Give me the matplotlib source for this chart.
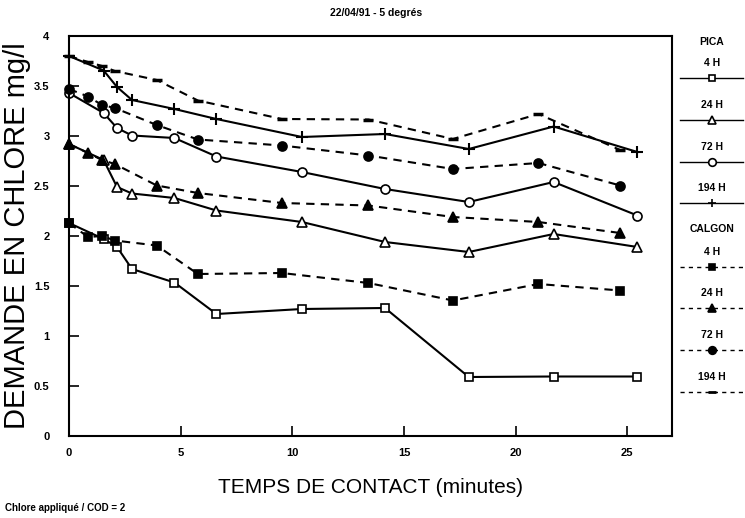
import matplotlib
matplotlib.use("Agg")
import matplotlib.pyplot as plt
from matplotlib.lines import Line2D

plt.rcParams['font.family'] = ['Liberation Sans', 'DejaVu Sans']

# Time (minutes)
t_pica = [0, 1.55, 2.15, 2.82, 4.72, 6.6, 10.43, 14.15, 17.9, 21.7, 25.45]
t_calgon = [0, 0.85, 1.48, 2.05, 3.93, 5.77, 9.53, 13.41, 17.19, 21.02, 24.68]

# Chlorine demand (mg/l)
pica_4h = [2.13, 1.97, 1.89, 1.67, 1.535, 1.22, 1.27, 1.28, 0.59, 0.595, 0.595]
pica_24h = [2.92, 2.76, 2.49, 2.425, 2.38, 2.255, 2.14, 1.94, 1.84, 2.02, 1.89]
pica_72h = [3.43, 3.23, 3.08, 3.005, 2.98, 2.795, 2.64, 2.47, 2.34, 2.54, 2.205]
pica_194h = [3.80, 3.655, 3.49, 3.36, 3.27, 3.17, 2.99, 3.02, 2.87, 3.095, 2.84]

calgon_4h = [2.13, 1.99, 2.0, 1.955, 1.905, 1.62, 1.63, 1.53, 1.355, 1.52, 1.455]
calgon_24h = [2.92, 2.83, 2.76, 2.72, 2.505, 2.43, 2.33, 2.305, 2.19, 2.14, 2.03]
calgon_72h = [3.47, 3.395, 3.31, 3.28, 3.11, 2.965, 2.905, 2.805, 2.67, 2.73, 2.505]
calgon_194h = [3.80, 3.74, 3.70, 3.65, 3.56, 3.355, 3.17, 3.165, 2.97, 3.22, 2.86]

x_ticks = [0, 5, 10, 15, 20, 25]
y_ticks = [0, 0.5, 1, 1.5, 2, 2.5, 3, 3.5, 4]
y_tick_labels = ['0', '0.5', '1', '1.5', '2', '2.5', '3', '3.5', '4']

fig = plt.figure(figsize=(7.45, 5.18), dpi=100)
ax = fig.add_axes([69/745, 82/518, (672-69)/745, (436-36)/518])

DASH = (4, 3)
series = [
    (t_pica, pica_4h, '-', 's', 'white', 6, 1.2),
    (t_pica, pica_24h, '-', '^', 'white', 6.5, 1.2),
    (t_pica, pica_72h, '-', 'o', 'white', 6.5, 1.2),
    (t_pica, pica_194h, '-', '+', 'black', 8, 1.5),
    (t_calgon, calgon_4h, '--', 's', 'black', 6, 1.2),
    (t_calgon, calgon_24h, '--', '^', 'black', 6.5, 1.2),
    (t_calgon, calgon_72h, '--', 'o', 'black', 6.5, 1.2),
    (t_calgon, calgon_194h, '--', '_', 'black', 7, 2.5),
]
for x, y, ls, m, mfc, ms, mew in series:
    kw = dict(color='black', lw=1.5, marker=m, mfc=mfc, mec='black', ms=ms, mew=mew, clip_on=False)
    if ls == '--':
        ax.plot(x, y, linestyle='--', dashes=DASH, **kw)
    else:
        ax.plot(x, y, linestyle='-', **kw)

ax.set_xlim(0, 27)
ax.set_ylim(0, 4)
ax.set_xticks(x_ticks)
ax.set_xticklabels([str(v) for v in x_ticks], fontsize=8, fontweight='bold')
ax.set_yticks(y_ticks)
ax.set_yticklabels(y_tick_labels, fontsize=8, fontweight='bold')
ax.tick_params(direction='in', length=7, width=1.2)
ax.tick_params(axis='x', pad=9)
ax.tick_params(axis='y', pad=14)
for s in ax.spines.values():
    s.set_linewidth(1.5)

ax.set_xlabel('TEMPS DE CONTACT (minutes)', fontsize=15, labelpad=14)
ax.set_ylabel('DEMANDE EN CHLORE mg/l', fontsize=21, labelpad=2)

fig.text(376/745, 1 - 13/518, '22/04/91 - 5 degrés', ha='center', va='center',
         fontsize=7.5, fontweight='bold')
fig.text(5/745, 1 - 508/518, 'Chlore appliqué / COD = 2', ha='left', va='center',
         fontsize=7, fontweight='bold')

# Legend on the right
lx0, lx1, lxc = 680/745, 743/745, 712/745
def fy(p):
    return 1 - p/518

fig.text(lxc, fy(42), 'PICA', ha='center', va='center', fontsize=7.5, fontweight='bold')
fig.text(lxc, fy(229), 'CALGON', ha='center', va='center', fontsize=7.5, fontweight='bold')
leg = [
    ('4 H', 63, 78, '-', 's', 'white', 5, 1.2),
    ('24 H', 105, 120, '-', '^', 'white', 5.5, 1.2),
    ('72 H', 147, 162, '-', 'o', 'white', 5.5, 1.2),
    ('194 H', 188, 203, '-', '+', 'black', 6, 1.2),
    ('4 H', 252, 267, '--', 's', 'black', 5, 1.2),
    ('24 H', 293, 308, '--', '^', 'black', 5.5, 1.2),
    ('72 H', 335, 350, '--', 'o', 'black', 5.5, 1.2),
    ('194 H', 377, 392, '--', '_', 'black', 6, 2.0),
]
for lab, ty, ly, ls, m, mfc, ms, mew in leg:
    fig.text(lxc, fy(ty), lab, ha='center', va='center', fontsize=7.5, fontweight='bold')
    ln = Line2D([lx0, lxc, lx1], [fy(ly)] * 3, transform=fig.transFigure, color='black',
                lw=1.0, linestyle=ls, marker=m, markevery=[1], mfc=mfc, mec='black',
                ms=ms, mew=mew)
    if ls == '--':
        ln.set_dashes((3, 3))
    fig.add_artist(ln)

fig.savefig('out.png', dpi=100)
